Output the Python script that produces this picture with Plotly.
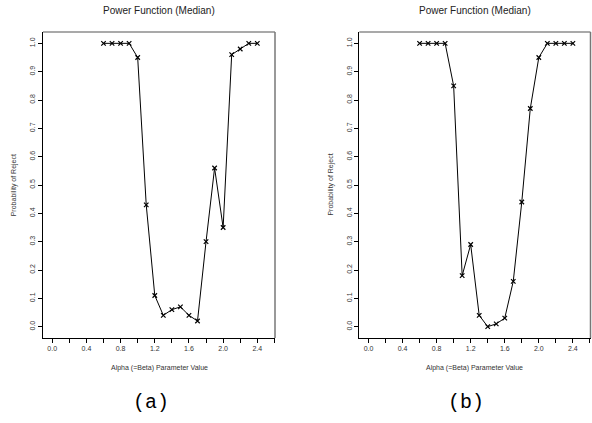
import plotly.graph_objects as go

alpha = [0.6, 0.7, 0.8, 0.9, 1.0, 1.1, 1.2, 1.3, 1.4, 1.5, 1.6, 1.7, 1.8, 1.9, 2.0, 2.1, 2.2, 2.3, 2.4]
power_a = [1.0, 1.0, 1.0, 1.0, 0.95, 0.43, 0.11, 0.04, 0.06, 0.07, 0.04, 0.02, 0.30, 0.56, 0.35, 0.96, 0.98, 1.0, 1.0]
power_b = [1.0, 1.0, 1.0, 1.0, 0.85, 0.18, 0.29, 0.04, 0.0, 0.01, 0.03, 0.16, 0.44, 0.77, 0.95, 1.0, 1.0, 1.0, 1.0]

x_ticks = [0.0, 0.2, 0.4, 0.6, 0.8, 1.0, 1.2, 1.4, 1.6, 1.8, 2.0, 2.2, 2.4, 2.6]
x_ticktext = ["0.0", "", "0.4", "", "0.8", "", "1.2", "", "1.6", "", "2.0", "", "2.4", ""]
y_ticks = [0.0, 0.1, 0.2, 0.3, 0.4, 0.5, 0.6, 0.7, 0.8, 0.9, 1.0]
y_ticktext = ["0.0", "0.1", "0.2", "0.3", "0.4", "0.5", "0.6", "0.7", "0.8", "0.9", "1.0"]

title_text = "Power Function (Median)"
xlab = "Alpha (=Beta) Parameter Value"
ylab = "Probability of Reject"
panel_labels = ["(a)", "(b)"]

W, H = 592, 423
# panel boxes in pixels (left, right)
boxes = [(43, 275), (359.3, 590.5)]
top_px, bot_px = 32, 338

fig = go.Figure()
series = [power_a, power_b]
for i, vals in enumerate(series):
    sfx = "" if i == 0 else str(i + 1)
    fig.add_trace(go.Scatter(
        x=alpha, y=vals, mode="lines+markers",
        line=dict(color="black", width=1),
        marker=dict(symbol="x-thin", size=4.5, line=dict(color="black", width=1.2)),
        xaxis="x" + sfx, yaxis="y" + sfx, showlegend=False,
    ))

layout = dict(
    width=W, height=H, margin=dict(l=0, r=0, t=0, b=0),
    paper_bgcolor="white", plot_bgcolor="white",
    font=dict(family="Liberation Sans, Arial, sans-serif", color="#222"),
)
ann = []
shapes = []
for i, (l, r) in enumerate(boxes):
    sfx = "" if i == 0 else str(i + 1)
    layout["xaxis" + sfx] = dict(
        domain=[l / W, r / W], range=[-0.108, 2.607],
        tickvals=x_ticks, ticktext=x_ticktext, ticks="outside", ticklen=4,
        tickcolor="black", tickfont=dict(size=7, color="#333"),
        showline=True, linecolor="black", linewidth=1, mirror=False,
        showgrid=False, zeroline=False, anchor="y" + sfx,
    )
    layout["yaxis" + sfx] = dict(
        domain=[1 - bot_px / H, 1 - top_px / H], range=[-0.04, 1.04],
        tickvals=y_ticks, ticktext=y_ticktext, ticks="outside", ticklen=4,
        tickcolor="black", tickfont=dict(size=7, color="#333"), tickangle=-90,
        showline=True, linecolor="black", linewidth=1, mirror=False,
        showgrid=False, zeroline=False, anchor="x" + sfx,
    )
    cx = (l + r) / 2
    # top and right border lines
    shapes.append(dict(type="line", xref="paper", yref="paper",
                       x0=l / W, x1=r / W, y0=1 - top_px / H, y1=1 - top_px / H,
                       line=dict(color="#555", width=1.2)))
    shapes.append(dict(type="line", xref="paper", yref="paper",
                       x0=r / W, x1=r / W, y0=1 - bot_px / H, y1=1 - top_px / H,
                       line=dict(color="#777", width=1.5)))
    ann.append(dict(text=title_text, x=cx / W, y=1 - 10 / H, xref="paper", yref="paper",
                    showarrow=False, font=dict(size=10, color="#222"),
                    xanchor="center", yanchor="middle"))
    ann.append(dict(text=xlab, x=cx / W, y=1 - 367.5 / H, xref="paper", yref="paper",
                    showarrow=False, font=dict(size=7, color="#333"),
                    xanchor="center", yanchor="middle"))
    ann.append(dict(text=ylab, x=(l - 28.7) / W, y=1 - ((top_px + bot_px) / 2) / H,
                    xref="paper", yref="paper", textangle=-90,
                    showarrow=False, font=dict(size=7, color="#333"),
                    xanchor="center", yanchor="middle"))
    ann.append(dict(text=panel_labels[i], x=(cx - 8.5) / W, y=1 - 402 / H,
                    xref="paper", yref="paper", showarrow=False,
                    font=dict(size=20, color="black", family="Liberation Mono, Courier New, monospace"),
                    xanchor="center", yanchor="middle"))

layout["annotations"] = ann
layout["shapes"] = shapes
fig.update_layout(**layout)
fig.write_html("out.html", config={"displayModeBar": False},
               post_script="document.body.style.margin='0';document.body.style.overflow='hidden';")
